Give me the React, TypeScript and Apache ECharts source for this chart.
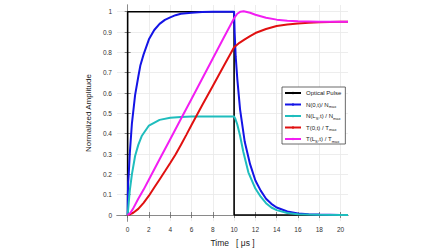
import React, { useEffect, useRef } from "react";
import * as echarts from "echarts";

const xTicks = [0, 2, 4, 6, 8, 10, 12, 14, 16, 18, 20];
const yTicks = [0, 0.1, 0.2, 0.3, 0.4, 0.5, 0.6, 0.7, 0.8, 0.9, 1];

const pulseT = [0, 0, 10, 10, 20.7];
const pulseV = [0, 1, 1, 0, 0];

const n0T = [0, 0.02, 0.05, 0.1, 0.2, 0.4, 0.7, 1, 1.2, 1.5, 2, 2.5, 3, 3.5, 4, 4.5, 5, 6, 7, 8, 9, 10, 10.05, 10.15, 10.3, 10.56, 11, 11.5, 12, 12.5, 13, 13.5, 14, 15, 16, 17, 18, 19, 20, 20.7];
const n0V = [0, 0.1, 0.16, 0.2, 0.3, 0.45, 0.59, 0.68, 0.737, 0.79, 0.864, 0.91, 0.94, 0.96, 0.972, 0.983, 0.99, 0.995, 0.998, 1, 1, 1, 0.9, 0.78, 0.67, 0.52, 0.36, 0.25, 0.17, 0.12, 0.08, 0.055, 0.037, 0.017, 0.008, 0.004, 0.002, 0.001, 0, 0];

const nLT = [0, 0.1, 0.2, 0.4, 0.7, 1, 1.34, 2, 3, 4, 5, 6, 7, 8, 9, 10, 10.1, 10.3, 10.56, 10.87, 11.34, 12, 12.5, 13, 13.5, 14, 15, 16, 17, 18, 20, 20.7];
const nLV = [0, 0.06, 0.12, 0.2, 0.29, 0.345, 0.39, 0.44, 0.468, 0.478, 0.482, 0.484, 0.485, 0.485, 0.485, 0.485, 0.475, 0.445, 0.39, 0.31, 0.21, 0.13, 0.09, 0.058, 0.037, 0.024, 0.01, 0.004, 0.002, 0.001, 0, 0];

const t0T = [0, 0.5, 1, 1.5, 2, 2.5, 3, 3.5, 4, 4.5, 5, 5.5, 6, 7, 8, 9, 10, 10.5, 11, 11.5, 12, 13, 14, 15, 16, 17, 18, 19, 20, 20.7];
const t0V = [0, 0.01, 0.03, 0.06, 0.095, 0.135, 0.175, 0.215, 0.256, 0.298, 0.344, 0.393, 0.443, 0.54, 0.635, 0.73, 0.825, 0.847, 0.864, 0.88, 0.895, 0.915, 0.93, 0.937, 0.942, 0.946, 0.948, 0.949, 0.95, 0.95];

const tLT = [0, 0.25, 0.5, 1, 1.5, 2, 3, 4, 5, 6, 7, 8, 9, 10, 10.3, 10.6, 10.9, 11.5, 12, 13, 14, 15, 16, 18, 20, 20.7];
const tLV = [0, 0.01, 0.03, 0.08, 0.125, 0.175, 0.274, 0.373, 0.472, 0.571, 0.67, 0.77, 0.869, 0.968, 0.99, 1.0, 1.002, 0.995, 0.985, 0.97, 0.961, 0.956, 0.953, 0.951, 0.95, 0.95];

const seriesNames = ["Optical Pulse", "N(0,t)/ Nmax", "N(Ls,t) / Nmax", "T(0,t) / Tmax", "T(Ls,t) / Tmax"];
const legendRich: Record<string, string> = {
  "Optical Pulse": "Optical Pulse",
  "N(0,t)/ Nmax": "N(0,t)/ N{s|max}",
  "N(Ls,t) / Nmax": "N(L{s|S},t) / N{s|max}",
  "T(0,t) / Tmax": "T(0,t) / T{s|max}",
  "T(Ls,t) / Tmax": "T(L{s|S},t) / T{s|max}",
};
const colors = ["#000000", "#1414e6", "#1fbdbd", "#e01010", "#f21ef2"];

const zip = (t: number[], v: number[]) => t.map((x, i) => [x, v[i]]);

const FONT = "Liberation Sans";

export default function App() {
  const ref = useRef<HTMLDivElement>(null);
  useEffect(() => {
    if (!ref.current) return;
    const chart = echarts.init(ref.current, null, { renderer: "svg" });
    const datas = [zip(pulseT, pulseV), zip(n0T, n0V), zip(nLT, nLV), zip(t0T, t0V), zip(tLT, tLV)];
    const frame = { show: true, lineStyle: { color: "#8a8a8a", width: 1 } };
    const tick = (vals: number[]) => ({ show: true, inside: true, length: 3, lineStyle: { color: "#666", width: 0.8 }, customValues: vals });
    chart.setOption({
      animation: false,
      textStyle: { fontFamily: FONT },
      grid: { left: 117, right: 100, top: 5, bottom: 25, containLabel: false },
      xAxis: [
        {
          type: "value", min: -1, max: 20.7, position: "bottom",
          name: "Time   [ \u03bcs ]", nameLocation: "middle", nameGap: 16,
          nameTextStyle: { fontSize: 8.5, color: "#222", fontFamily: FONT },
          axisLine: frame, axisTick: tick(xTicks),
          axisLabel: { customValues: xTicks, fontSize: 6.5, color: "#333", margin: 5, fontFamily: FONT },
          splitLine: { show: true, lineStyle: { color: "#e8e8e8", width: 0.8 } },
        },
        {
          type: "value", min: -1, max: 20.7, position: "top",
          axisLine: frame, axisTick: tick(xTicks),
          axisLabel: { show: false, customValues: xTicks }, splitLine: { show: false },
        },
      ],
      yAxis: [
        {
          type: "value", min: -0.03, max: 1.033, position: "left",
          name: "Normalized Amplitude", nameLocation: "middle", nameGap: 20,
          nameTextStyle: { fontSize: 8, color: "#222", fontFamily: FONT },
          axisLine: frame, axisTick: tick(yTicks),
          axisLabel: { customValues: yTicks, fontSize: 6.5, color: "#333", margin: 5, fontFamily: FONT },
          splitLine: { show: true, lineStyle: { color: "#e8e8e8", width: 0.8 } },
        },
        {
          type: "value", min: -0.03, max: 1.033, position: "right",
          axisLine: frame, axisTick: tick(yTicks),
          axisLabel: { show: false, customValues: yTicks }, splitLine: { show: false },
        },
      ],
      legend: {
        orient: "vertical", left: 282, top: 87,
        width: 64,
        padding: [2, 4, 1, 2],
        itemWidth: 16, itemHeight: 3, itemGap: 3.5,
        backgroundColor: "#ffffff", borderColor: "#444", borderWidth: 0.8, borderRadius: 0,
        data: seriesNames,
        formatter: (name: string) => legendRich[name],
        textStyle: {
          fontSize: 6, color: "#222", fontFamily: FONT, lineHeight: 8,
          rich: { s: { fontSize: 4, verticalAlign: "bottom", lineHeight: 8, color: "#222", fontFamily: FONT } },
        },
      },
      series: datas.map((d, i) => ({
        name: seriesNames[i],
        type: "line",
        data: d,
        symbol: "circle",
        symbolSize: 2,
        showSymbol: false,
        color: colors[i],
        lineStyle: { color: colors[i], width: i === 0 ? 1.6 : 2 },
        z: 2 + i,
      })),
    });
    return () => chart.dispose();
  }, []);
  return <div ref={ref} style={{ width: 448, height: 252, position: "absolute", left: 0, top: 0, background: "#fff" }} />;
}
